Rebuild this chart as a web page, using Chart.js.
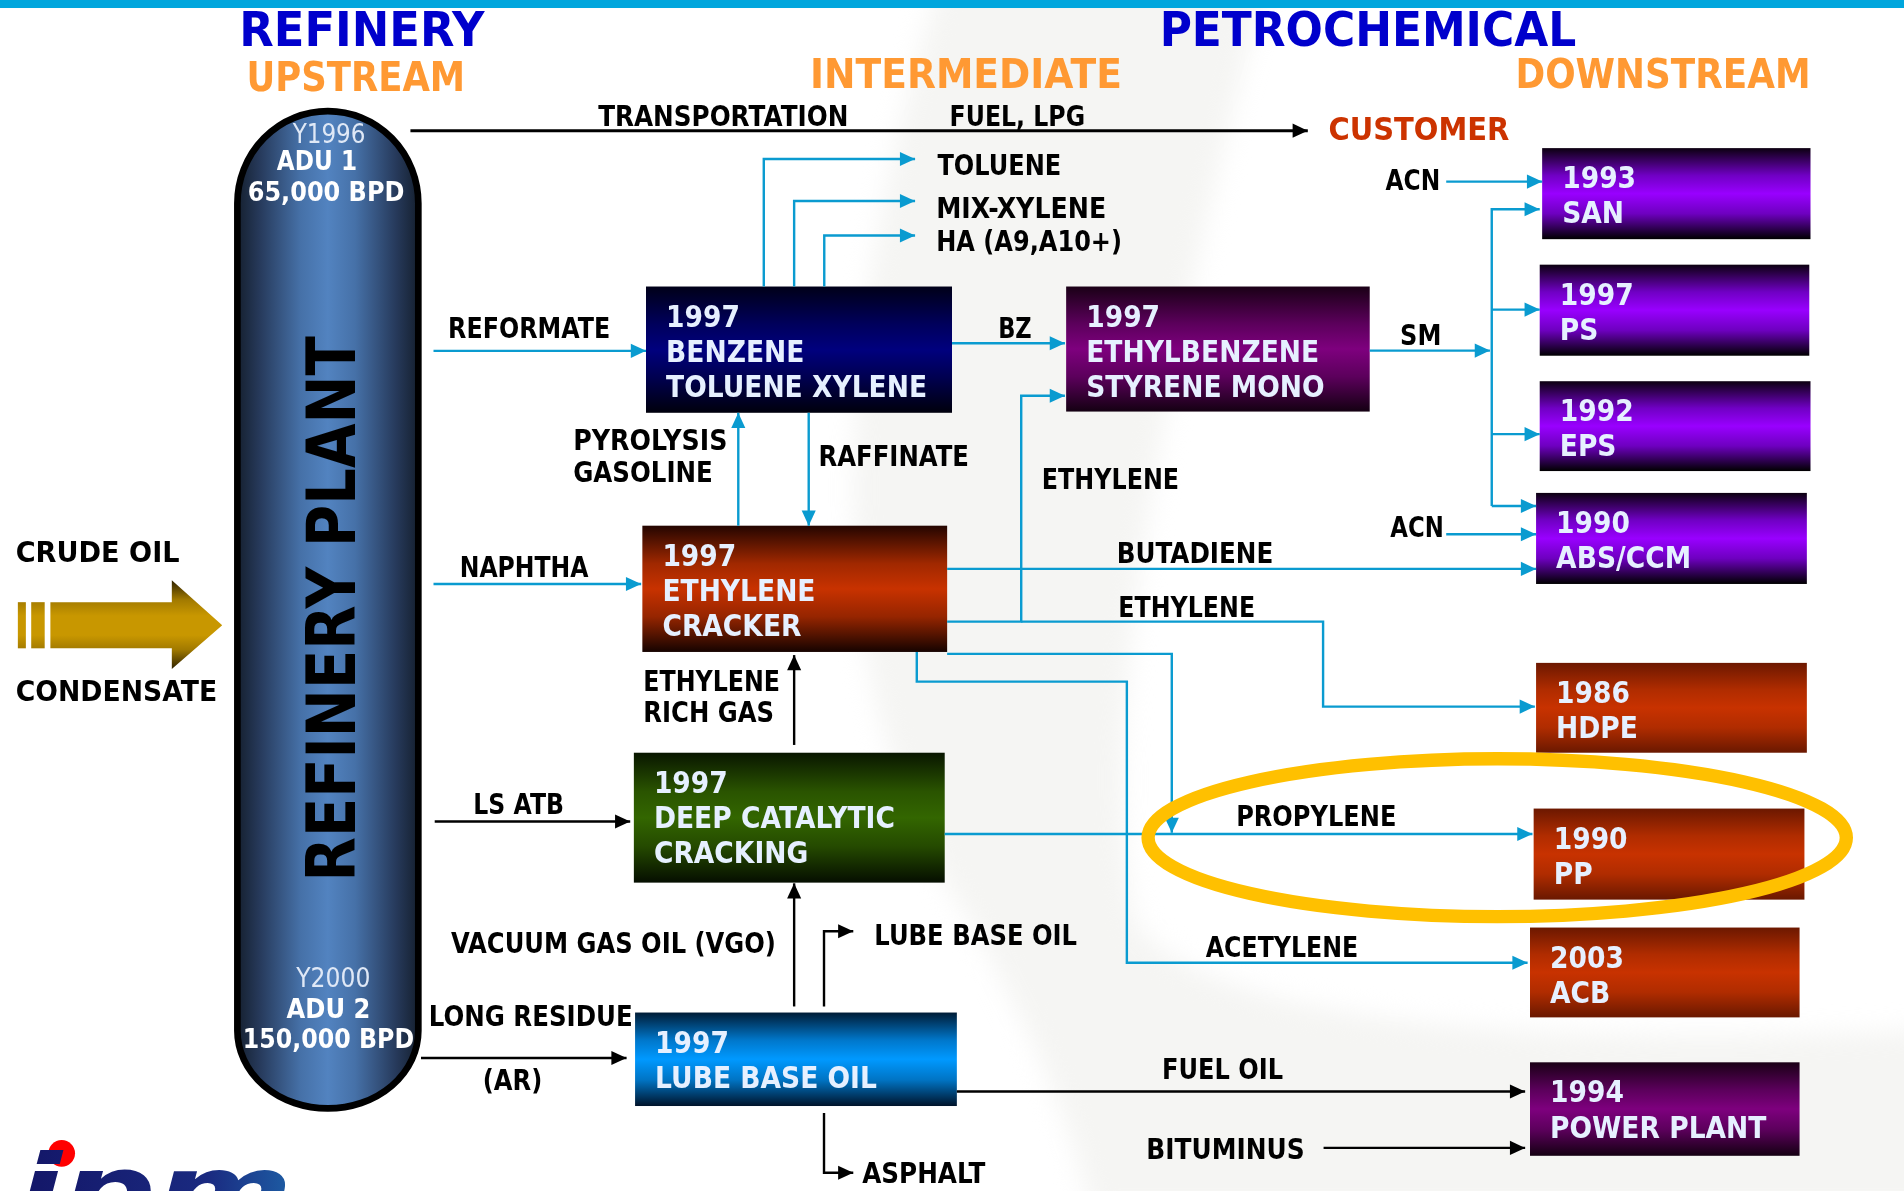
<!DOCTYPE html>
<html>
<head>
<meta charset="utf-8">
<title>Refinery / Petrochemical flow</title>
<script src="https://cdn.jsdelivr.net/npm/chart.js@4.4.1/dist/chart.umd.min.js"></script>
<style>
  html, body { margin: 0; padding: 0; background: #fff; overflow: hidden; }
  canvas { display: block; }
</style>
</head>
<body>
<canvas id="flowChart" width="1904" height="1191"></canvas>
<script>
// ---- diagram content ----
const headings = ['REFINERY', 'UPSTREAM', 'PETROCHEMICAL', 'INTERMEDIATE', 'DOWNSTREAM', 'CUSTOMER'];
const feedNames = ['CRUDE OIL', 'CONDENSATE'];
const columnTitle = 'REFINERY PLANT';
const columnLines = ['Y1996', 'ADU 1', '65,000 BPD', 'Y2000', 'ADU 2', '150,000 BPD'];
const unitYears = ['1997', '1997', '1997', '1997', '1997', '1993', '1997', '1992', '1990', '1986', '1990', '2003', '1994'];
const unitNames = [
  ['BENZENE', 'TOLUENE XYLENE'], ['ETHYLBENZENE', 'STYRENE MONO'], ['ETHYLENE', 'CRACKER'],
  ['DEEP CATALYTIC', 'CRACKING'], ['LUBE BASE OIL'], ['SAN'], ['PS'], ['EPS'], ['ABS/CCM'],
  ['HDPE'], ['PP'], ['ACB'], ['POWER PLANT']
];
const streamNames = [
  'TRANSPORTATION', 'FUEL, LPG', 'TOLUENE', 'MIX-XYLENE', 'HA (A9,A10+)', 'REFORMATE', 'BZ', 'SM',
  'ACN', 'ACN', 'PYROLYSIS', 'GASOLINE', 'RAFFINATE', 'ETHYLENE', 'NAPHTHA', 'BUTADIENE', 'ETHYLENE',
  'ETHYLENE', 'RICH GAS', 'LS ATB', 'PROPYLENE', 'VACUUM GAS OIL (VGO)', 'LUBE BASE OIL', 'ACETYLENE',
  'LONG RESIDUE', '(AR)', 'FUEL OIL', 'BITUMINUS', 'ASPHALT'
];

// ---- layout (units of the 1568 x 981 reference) ----
const headingPos = [[197, 38, 202, 38.8], [203, 75, 180, 33], [955, 38, 343, 38.8], [667, 72.5, 257, 33], [1248, 72.5, 243, 33], [1094, 115, 149, 27]];
const headingColors = ['#0000cc', '#ff9933', '#0000cc', '#ff9933', '#ff9933', '#cc3300'];
const feedPos = [[12.9, 462.6, 135], [12.9, 577.8, 166]];
const columnPos = [[241, 118, 60, 'normal'], [228, 140, 66, 'bold'], [204, 165.5, 129, 'bold'], [244, 813, 61, 'normal'], [236, 838.7, 69, 'bold'], [200, 863, 141, 'bold']];
const unitBoxes = [
  [532, 236, 784, 340], [878, 236, 1128, 339], [529, 433, 780, 537], [522, 620, 778, 727], [523, 834, 788, 911],
  [1270, 122, 1491, 197], [1268, 218, 1490, 293], [1268, 314, 1491, 388], [1265, 406, 1488, 481],
  [1265, 546, 1488, 620], [1263, 666, 1486, 741], [1260, 764, 1482, 838], [1260, 875, 1482, 952]
];
const unitFills = ['navy', 'plum', 'ember', 'olive', 'azure', 'violet', 'violet', 'violet', 'violet', 'brick', 'brick', 'brick', 'plum'];
const palettes = {
  navy:   ['#000018', '#00005c', '#00007e', '#000050', '#00000c'],
  plum:   ['#1a0016', '#5c005c', '#7e007e', '#5c005c', '#140012'],
  ember:  ['#240500', '#a02800', '#c83200', '#962500', '#160300'],
  olive:  ['#091600', '#2a5400', '#336600', '#254a00', '#050e00'],
  azure:  ['#001c36', '#0078cc', '#0099ff', '#0074c4', '#00132a'],
  violet: ['#0c0010', '#7000c4', '#9900ff', '#6e00c0', '#000000'],
  brick:  ['#6c1800', '#b02c00', '#c83200', '#b02c00', '#6a1800']
};
const streamPos = [
  [492.6, 104, 206], [782, 104, 111.6], [772, 144, 102], [771, 179.8, 140], [771, 206.5, 153], [369, 278.6, 133.5],
  [822, 278.6, 27.6], [1153, 284, 34], [1141, 156.5, 45], [1145, 442, 44], [472, 370.6, 127], [472, 396.7, 115],
  [674, 383.7, 124], [858, 403, 113], [378.6, 475, 106], [919.6, 463.8, 129], [921, 508, 112.6], [529.8, 569, 112.6],
  [529.8, 594.7, 107.6], [389.8, 670.4, 74.7], [1018, 680, 132], [371.4, 785, 267.6], [720, 778, 167], [993, 788, 125.6],
  [353, 845, 168], [397.6, 897.7, 49], [957, 888.6, 99.6], [944, 955, 130.4], [710, 974.5, 101.5]
];
// pipe routes; every one ends in an arrow head
const flowPaths = [
  ['b', [[357, 289], [532, 289]]],
  ['b', [[629, 236], [629, 131], [753.6, 131]]],
  ['b', [[654, 236], [654, 165.5], [753.6, 165.5]]],
  ['b', [[678.8, 236], [678.8, 194], [753.6, 194]]],
  ['b', [[784, 282.7], [877, 282.7]]],
  ['b', [[1128, 288.8], [1227, 288.8]]],
  ['b', [[1228.5, 416.8], [1228.5, 172.4], [1268, 172.4]]],
  ['b', [[1228.5, 255], [1268, 255]]],
  ['b', [[1228.5, 357.6], [1268, 357.6]]],
  ['b', [[1228.5, 416.8], [1265, 416.8]]],
  ['b', [[1191, 149.6], [1270, 149.6]]],
  ['b', [[1191, 440], [1265, 440]]],
  ['b', [[608, 433], [608, 340]]],
  ['b', [[666, 340], [666, 433]]],
  ['b', [[357, 481], [528, 481]]],
  ['b', [[780, 512], [841, 512], [841, 326], [877, 326]]],
  ['b', [[780, 468.6], [1265, 468.6]]],
  ['b', [[841, 512], [1089.6, 512], [1089.6, 582], [1264, 582]]],
  ['b', [[780, 538.6], [965, 538.6], [965, 686]]],
  ['b', [[755, 537], [755, 561.4], [928, 561.4], [928, 793], [1258, 793]]],
  ['b', [[778, 687], [1262, 687]]],
  ['k', [[338, 107.6], [1077, 107.6]]],
  ['k', [[358, 676.7], [519, 676.7]]],
  ['k', [[654, 613.6], [654, 539.6]]],
  ['k', [[654, 829], [654, 727.6]]],
  ['k', [[678.6, 829], [678.6, 767], [702.7, 767]]],
  ['k', [[346.7, 871.4], [516, 871.4]]],
  ['k', [[788, 899], [1256, 899]]],
  ['k', [[678.6, 916.7], [678.6, 966], [702.7, 966]]],
  ['k', [[1090, 945.5], [1256, 945.5]]]
];
const lineColors = { b: '#0a9bd0', k: '#000000' };

const FONT = '"DejaVu Sans", Verdana, sans-serif';

function drawText(chart, str, x, y, w, size, color, weight) {
  const ctx = chart.ctx, sc = chart.chartArea.width / 1568;
  ctx.font = weight + ' ' + (size * sc) + 'px ' + FONT;
  const m = ctx.measureText(str).width;
  const sx = w ? (w * sc) / m : 0.875;
  ctx.save();
  ctx.translate(chart.scales.x.getPixelForValue(x), chart.scales.y.getPixelForValue(y));
  ctx.scale(sx, 1);
  ctx.fillStyle = color;
  ctx.textAlign = 'left';
  ctx.textBaseline = 'alphabetic';
  ctx.fillText(str, 0, 0);
  ctx.restore();
}

const flowPlugin = {
  id: 'flowPlugin',
  beforeDraw(chart) {
    const ctx = chart.ctx;
    ctx.save();
    ctx.fillStyle = '#ffffff';
    ctx.fillRect(0, 0, chart.width, chart.height);
    ctx.restore();
  },
  beforeDatasetsDraw(chart) {
    const ctx = chart.ctx, X = v => chart.scales.x.getPixelForValue(v), Y = v => chart.scales.y.getPixelForValue(v);
    const sc = chart.chartArea.width / 1568;
    ctx.save();
    // faint background swoosh, soft edged
    ctx.save();
    ctx.filter = 'blur(' + Math.round(10 * sc) + 'px)';
    ctx.beginPath();
    ctx.moveTo(X(776), Y(-20));
    ctx.bezierCurveTo(X(690), Y(250), X(660), Y(560), X(800), Y(760));
    ctx.bezierCurveTo(X(850), Y(850), X(880), Y(920), X(900), Y(1000));
    ctx.lineTo(X(1600), Y(1000));
    ctx.lineTo(X(1600), Y(848));
    ctx.bezierCurveTo(X(1300), Y(862), X(1000), Y(850), X(935), Y(760));
    ctx.bezierCurveTo(X(900), Y(600), X(960), Y(300), X(1043), Y(-20));
    ctx.closePath();
    ctx.fillStyle = '#f5f5f3';
    ctx.fill();
    ctx.restore();
    // top rule
    ctx.fillStyle = '#00a6dd';
    ctx.fillRect(X(0), Y(0), X(1568) - X(0), 6.6 * sc);

    // refinery column
    const l = X(195.5), r = X(344.5), cx = (l + r) / 2, rx = (r - l) / 2;
    const top = Y(91.5), bot = Y(913), ryT = 76 * sc, ryB = 64 * sc;
    const g = ctx.createLinearGradient(l, 0, r, 0);
    [[0, '#15202f'], [0.12, '#26395a'], [0.35, '#4671a8'], [0.5, '#5283c0'], [0.65, '#4671a8'], [0.88, '#26395a'], [1, '#15202f']]
      .forEach(s => g.addColorStop(s[0], s[1]));
    ctx.beginPath();
    ctx.moveTo(l, top + ryT);
    ctx.ellipse(cx, top + ryT, rx, ryT, 0, Math.PI, Math.PI * 2);
    ctx.lineTo(r, bot - ryB);
    ctx.ellipse(cx, bot - ryB, rx, ryB, 0, 0, Math.PI);
    ctx.closePath();
    ctx.fillStyle = g;
    ctx.fill();
    ctx.lineWidth = 5.5 * sc;
    ctx.strokeStyle = '#000';
    ctx.stroke();

    // crude oil feed arrow
    const ga = ctx.createLinearGradient(0, Y(478), 0, Y(551));
    [[0, '#2e2200'], [0.22, '#a27a00'], [0.4, '#c89700'], [0.62, '#c89700'], [0.78, '#a27a00'], [1, '#2e2200']]
      .forEach(s => ga.addColorStop(s[0], s[1]));
    ctx.fillStyle = ga;
    ctx.beginPath();
    [[41.5, 496], [141.5, 496], [141.5, 478], [183, 515], [141.5, 551], [141.5, 534], [41.5, 534]]
      .forEach((p, i) => i ? ctx.lineTo(X(p[0]), Y(p[1])) : ctx.moveTo(X(p[0]), Y(p[1])));
    ctx.closePath();
    ctx.fill();
    ctx.fillRect(X(14.7), Y(496), X(21.3) - X(14.7), Y(534) - Y(496));
    ctx.fillRect(X(25.7), Y(496), X(36.8) - X(25.7), Y(534) - Y(496));

    // process unit boxes
    unitBoxes.forEach((b, i) => {
      const gb = ctx.createLinearGradient(0, Y(b[1]), 0, Y(b[3]));
      palettes[unitFills[i]].forEach((c, j) => gb.addColorStop([0, 0.3, 0.5, 0.72, 1][j], c));
      ctx.fillStyle = gb;
      ctx.fillRect(X(b[0]), Y(b[1]), X(b[2]) - X(b[0]), Y(b[3]) - Y(b[1]));
    });
    ctx.restore();
  },
  afterDatasetsDraw(chart) {
    const ctx = chart.ctx, X = v => chart.scales.x.getPixelForValue(v), Y = v => chart.scales.y.getPixelForValue(v);
    const sc = chart.chartArea.width / 1568;
    // arrow heads at the end of every pipe
    ctx.save();
    flowPaths.forEach(f => {
      const pts = f[1], a = pts[pts.length - 2], b = pts[pts.length - 1];
      const x1 = X(a[0]), y1 = Y(a[1]), x2 = X(b[0]), y2 = Y(b[1]);
      const ang = Math.atan2(y2 - y1, x2 - x1), L = 12.5 * sc, H = 5.8 * sc;
      ctx.beginPath();
      ctx.moveTo(x2, y2);
      ctx.lineTo(x2 - L * Math.cos(ang) + H * Math.sin(ang), y2 - L * Math.sin(ang) - H * Math.cos(ang));
      ctx.lineTo(x2 - L * Math.cos(ang) - H * Math.sin(ang), y2 - L * Math.sin(ang) + H * Math.cos(ang));
      ctx.closePath();
      ctx.fillStyle = lineColors[f[0]];
      ctx.fill();
    });
    ctx.restore();

    headings.forEach((t, i) => {
      const p = headingPos[i];
      drawText(chart, t, p[0], p[1], p[2], p[3], headingColors[i], 'bold');
    });
    feedNames.forEach((t, i) => drawText(chart, t, feedPos[i][0], feedPos[i][1], feedPos[i][2], 23, '#000', 'bold'));
    streamNames.forEach((t, i) => drawText(chart, t, streamPos[i][0], streamPos[i][1], streamPos[i][2], 23, '#000', 'bold'));
    columnLines.forEach((t, i) => {
      const p = columnPos[i];
      drawText(chart, t, p[0], p[1], p[2], 22.5, p[3] === 'bold' ? '#ffffff' : '#dfe8f6', p[3]);
    });
    unitBoxes.forEach((b, i) => {
      const lines = [unitYears[i]].concat(unitNames[i]);
      lines.forEach((t, j) => drawText(chart, t, b[0] + 16.5, b[1] + 33 + j * 29, 0, 25, '#e6f0ff', 'bold'));
    });

    // vertical column title
    ctx.save();
    ctx.font = 'bold ' + (56 * sc) + 'px ' + FONT;
    const m = ctx.measureText(columnTitle).width;
    ctx.translate(X(292), Y(726));
    ctx.rotate(-Math.PI / 2);
    ctx.scale((449 * sc) / m, 1);
    ctx.fillStyle = '#000';
    ctx.textBaseline = 'alphabetic';
    ctx.fillText(columnTitle, 0, 0);
    ctx.restore();
  },
  afterDraw(chart) {
    const ctx = chart.ctx, X = v => chart.scales.x.getPixelForValue(v), Y = v => chart.scales.y.getPixelForValue(v);
    const sc = chart.chartArea.width / 1568;
    ctx.save();
    // highlight ring around propylene -> PP
    ctx.beginPath();
    ctx.ellipse(X(1233), Y(690), 287.5 * sc, 65 * sc, 0, 0, Math.PI * 2);
    ctx.lineWidth = 11 * sc;
    ctx.strokeStyle = '#ffc000';
    ctx.stroke();
    // company logo (cut by the bottom edge)
    ctx.beginPath();
    ctx.arc(X(50.8), Y(950), 11 * sc, 0, Math.PI * 2);
    ctx.fillStyle = '#ff0000';
    ctx.fill();
    const gl = ctx.createLinearGradient(X(14), 0, X(241), 0);
    gl.addColorStop(0, '#14186a');
    gl.addColorStop(0.45, '#1a2a80');
    gl.addColorStop(1, '#22a6d8');
    ctx.font = 'italic bold ' + (80 * sc) + 'px ' + FONT;
    const lw = ctx.measureText('ipm').width;
    ctx.translate(X(14), Y(1009));
    ctx.scale((227 * sc) / lw, 1);
    ctx.fillStyle = gl;
    ctx.fillText('ipm', 0, 0);
    ctx.restore();
  }
};

const ctx = document.getElementById('flowChart').getContext('2d');
const flowChart = new Chart(ctx, {
  type: 'scatter',
  data: {
    datasets: flowPaths.map(f => ({
      data: f[1].map(p => ({ x: p[0], y: p[1] })),
      showLine: true,
      borderColor: lineColors[f[0]],
      borderWidth: f[0] === 'k' && f[1][0][1] < 120 ? 3 : 2.4,
      pointRadius: 0,
      pointHoverRadius: 0,
      tension: 0,
      fill: false
    }))
  },
  options: {
    responsive: false,
    animation: false,
    layout: { padding: 0 },
    events: [],
    scales: {
      x: { type: 'linear', min: 0, max: 1568, display: false },
      y: { type: 'linear', min: 0, max: 981, reverse: true, display: false }
    },
    plugins: {
      legend: { display: false },
      tooltip: { enabled: false }
    }
  },
  plugins: [flowPlugin]
});
</script>
</body>
</html>
